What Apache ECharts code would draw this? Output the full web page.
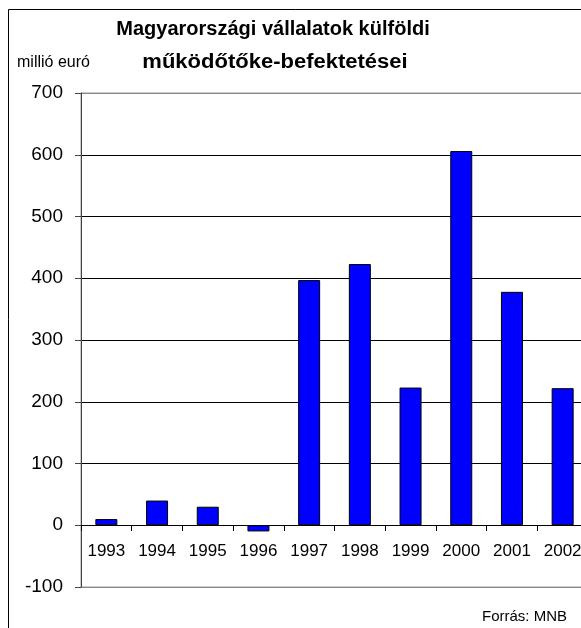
<!DOCTYPE html>
<html><head><meta charset="utf-8">
<script src="https://cdn.jsdelivr.net/npm/echarts@6/dist/echarts.min.js"></script>
<style>html,body{margin:0;padding:0;background:#fff}#c{width:581px;height:628px}</style>
</head><body><div id="c"></div>
<script>
const categories = ['1993','1994','1995','1996','1997','1998','1999','2000','2001','2002'];
const values = [10, 40, 30, -10, 397, 423, 223, 606, 378, 222];
const yTicks = {min: -100, max: 700, interval: 100};
const titleLines = ['Magyarországi vállalatok külföldi', 'működőtőke-befektetései'];
const unitLabel = 'millió euró';
const sourceLabel = 'Forrás: MNB';

const font = '"Liberation Sans", Arial, sans-serif';
const chart = echarts.init(document.getElementById('c'), null, {renderer: 'canvas'});
const gridColors = ['#888','#000','#000','#000','#000','#000','#000','#000','#888'];
chart.setOption({
  animation: false,
  backgroundColor: '#fff',
  grid: {left: 81, top: 93, width: 507, height: 494, show: true, borderColor: '#999', borderWidth: 1,
         containLabel: false, outerBoundsMode: 'none'},
  xAxis: {
    type: 'category', data: categories, boundaryGap: true, offset: -62,
    axisLine: {onZero: false, lineStyle: {color: '#000', width: 1}},
    axisTick: {show: true, length: 6, lineStyle: {color: '#000'}},
    axisLabel: {color: '#000', fontFamily: font, fontSize: 17, margin: 18, hideOverlap: false}
  },
  yAxis: {
    type: 'value', min: yTicks.min, max: yTicks.max, interval: yTicks.interval,
    axisLine: {show: true, lineStyle: {color: '#444'}},
    axisTick: {show: true, length: 6, lineStyle: {color: '#444'}},
    axisLabel: {color: '#000', fontFamily: font, fontSize: 19, margin: 18},
    splitLine: {show: true, lineStyle: {color: gridColors, width: 1}}
  },
  series: [{
    type: 'bar', data: values, barWidth: 22,
    itemStyle: {color: '#0000FF', borderColor: '#000', borderWidth: 1}
  }],
  graphic: [
    {type: 'rect', shape: {x: 8.5, y: 9.5, width: 700, height: 700}, style: {fill: 'none', stroke: '#000', lineWidth: 1}, z: -1, silent: true},
    {type: 'text', x: 273, y: 29, style: {text: titleLines[0], font: 'bold 20px ' + font, fill: '#000', textAlign: 'center', textVerticalAlign: 'middle'}},
    {type: 'text', x: 275, y: 62, scaleX: 1.1, style: {text: titleLines[1], font: 'bold 20px ' + font, fill: '#000', textAlign: 'center', textVerticalAlign: 'middle'}},
    {type: 'text', x: 17, y: 63, style: {text: unitLabel, font: '16px ' + font, fill: '#000', textAlign: 'left', textVerticalAlign: 'middle'}},
    {type: 'text', x: 567, y: 617, style: {text: sourceLabel, font: '15px ' + font, fill: '#000', textAlign: 'right', textVerticalAlign: 'middle'}}
  ]
});
</script></body></html>
